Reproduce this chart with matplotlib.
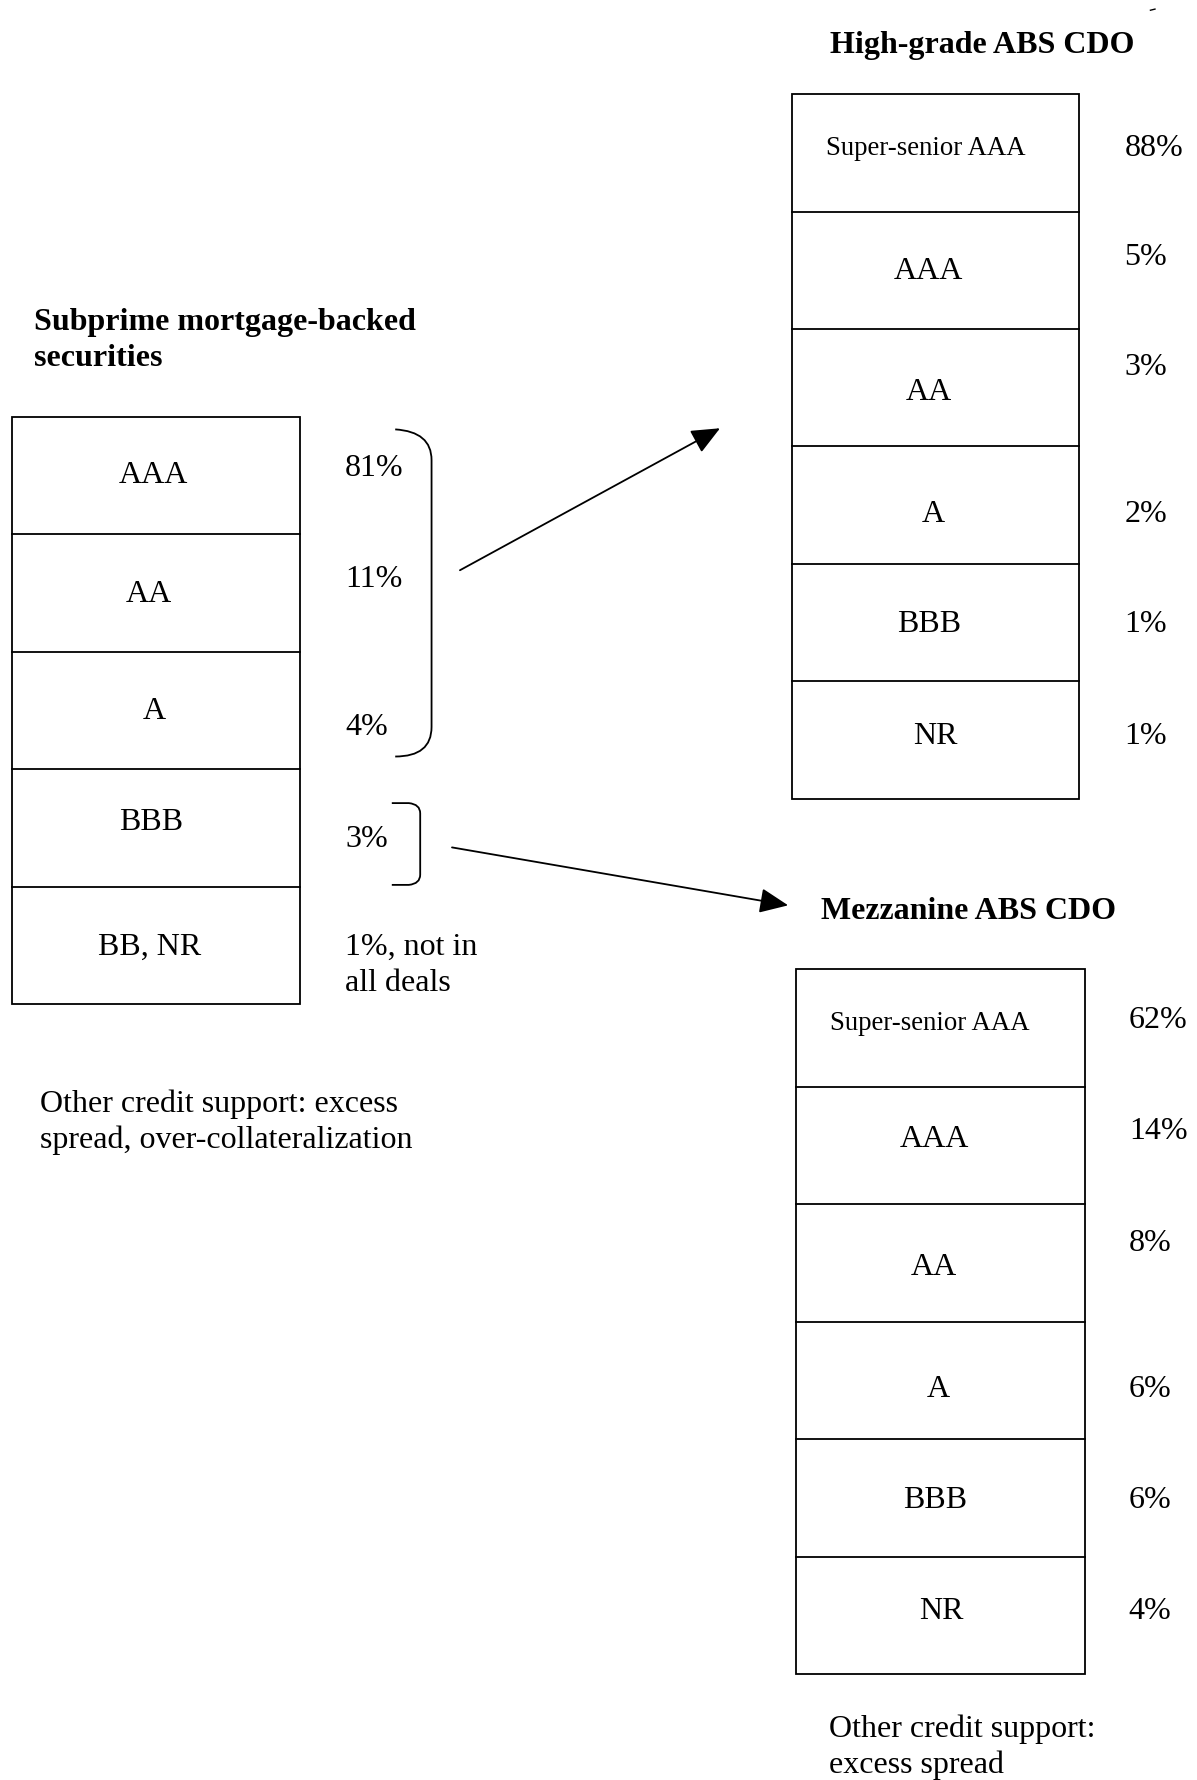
import matplotlib
matplotlib.use("Agg")
import matplotlib.pyplot as plt
from matplotlib.patches import Rectangle, PathPatch
from matplotlib.path import Path

plt.rcParams['font.family'] = ['Liberation Serif', 'DejaVu Serif']

# ---------------- data ----------------
rmbs_title = "Subprime mortgage-backed\nsecurities"
rmbs_tranches = ["AAA", "AA", "A", "BBB", "BB, NR"]
rmbs_shares = ["81%", "11%", "4%", "3%", "1%, not in\nall deals"]
rmbs_note = "Other credit support: excess\nspread, over-collateralization"

hg_title = "High-grade ABS CDO"
hg_tranches = ["Super-senior AAA", "AAA", "AA", "A", "BBB", "NR"]
hg_shares = ["88%", "5%", "3%", "2%", "1%", "1%"]

mz_title = "Mezzanine ABS CDO"
mz_tranches = ["Super-senior AAA", "AAA", "AA", "A", "BBB", "NR"]
mz_shares = ["62%", "14%", "8%", "6%", "6%", "4%"]
mz_note = "Other credit support:\nexcess spread"

# ---------------- layout ----------------
W, H = 1054, 1567
fig = plt.figure(figsize=(11.97, 17.80), dpi=100)
ax = fig.add_axes([0, 0, 1, 1])
ax.set_xlim(0, W)
ax.set_ylim(H, 0)
ax.axis('off')

LW = 1.3
FS = 23
FS_SMALL = 19.3
FS_TITLE = 23
DY = 2  # global text nudge


def stack(x0, x1, y0, y1, tranches, shares, lab_dy, pct_dy, lab_dx, pct_x):
    n = len(tranches)
    h = (y1 - y0) / n
    ax.add_patch(Rectangle((x0, y0), x1 - x0, y1 - y0, fill=False, lw=LW, ec='black'))
    for i in range(1, n):
        ax.plot([x0, x1], [y0 + i * h, y0 + i * h], color='black', lw=LW)
    cx = (x0 + x1) / 2
    for i, (t, s) in enumerate(zip(tranches, shares)):
        cy = y0 + (i + 0.5) * h
        fs = FS_SMALL if t.startswith("Super") else FS
        ax.text(cx + lab_dx[i], cy + lab_dy[i] + DY, t, ha='center', va='center', fontsize=fs)
        if "\n" in s:
            ax.text(pct_x, cy - 11, s, ha='left', va='top', fontsize=FS, linespacing=1.3)
        else:
            ax.text(pct_x, cy + pct_dy[i] + DY, s, ha='left', va='center', fontsize=FS)


# left stack
ax.text(30, 300, rmbs_title, ha='left', va='center', fontsize=FS_TITLE,
        fontweight='bold', linespacing=1.3)
stack(11, 264, 367, 884, rmbs_tranches, rmbs_shares,
      lab_dy=[-2, -1, -1, -7, 0], pct_dy=[-8, -14, 13, 8, 0],
      lab_dx=[-2, -6, -2, -4, -6], pct_x=304)
ax.text(35, 988, rmbs_note, ha='left', va='center', fontsize=FS, linespacing=1.3)

# high-grade stack
ax.text(865, 40, hg_title, ha='center', va='center', fontsize=FS_TITLE, fontweight='bold')
stack(697, 950, 83, 703, hg_tranches, hg_shares,
      lab_dy=[-6, -1, 2, 6, 0, -5], pct_dy=[-6, -13, -20, 6, 0, -5],
      lab_dx=[-8, -6, -6, -2, -5, 0], pct_x=990)

# mezzanine stack
ax.text(853, 802, mz_title, ha='center', va='center', fontsize=FS_TITLE, fontweight='bold')
stack(701, 955, 853, 1474, mz_tranches, mz_shares,
      lab_dy=[-6, -7, 2, 6, 0, -6], pct_dy=[-8, -14, -19, 6, 0, -6],
      lab_dx=[-9, -5, -6, -2, -5, 1], pct_x=994)
ax.text(730, 1538, mz_note, ha='left', va='center', fontsize=FS, linespacing=1.3)

# braces
b1 = Path([(348, 378), (380, 380), (380, 405), (380, 640), (380, 666), (348, 666)],
          [Path.MOVETO, Path.CURVE3, Path.CURVE3, Path.LINETO, Path.CURVE3, Path.CURVE3])
ax.add_patch(PathPatch(b1, fill=False, lw=LW, ec='black'))
b2 = Path([(345, 707), (360, 707), (370, 708), (370, 716), (370, 770), (370, 778), (360, 779), (345, 779)],
          [Path.MOVETO, Path.LINETO, Path.CURVE3, Path.CURVE3, Path.LINETO, Path.CURVE3, Path.CURVE3, Path.LINETO])
ax.add_patch(PathPatch(b2, fill=False, lw=LW, ec='black'))

# arrows
arrow = dict(arrowstyle='-|>,head_length=0.8,head_width=0.35', color='black', lw=LW,
             shrinkA=0, shrinkB=0, mutation_scale=22)
ax.annotate('', xy=(634, 377), xytext=(405, 502), arrowprops=arrow)
ax.annotate('', xy=(694, 797), xytext=(398, 746), arrowprops=arrow)

# small mark at top right
ax.plot([1013, 1017], [9, 8], color='black', lw=1.0)

fig.savefig("out.png", dpi=100, facecolor='white')
